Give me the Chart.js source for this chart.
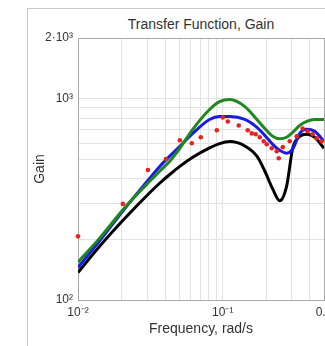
<!DOCTYPE html>
<html>
<head>
<meta charset="utf-8">
<script src="https://cdn.jsdelivr.net/npm/chart.js@4.4.1/dist/chart.umd.min.js"></script>
<style>
  html, body { margin: 0; padding: 0; background: #fff; overflow: hidden; width: 325px; height: 346px; }
  #frame { position: absolute; left: 27px; top: 8px; width: 400px; height: 400px; border: 1px solid #c8c8c8; }
  #title { position: absolute; left: 78px; width: 246px; top: 16px; text-align: center;
           font: 14px "Liberation Sans", Arial, sans-serif; color: #333; line-height: 17px; }
  #wrap { position: absolute; left: 0; top: 0; width: 360px; height: 346px; }
</style>
</head>
<body>
<div id="frame"></div>
<div id="title">Transfer Function, Gain</div>
<div id="wrap"><canvas id="chart" width="360" height="346"></canvas></div>
<script>
// model curves share one frequency grid (rad/s)
const freq = [0.01, 0.0142, 0.021, 0.0314, 0.0368, 0.043, 0.0505, 0.062, 0.081, 0.095, 0.112,
              0.142, 0.172, 0.195, 0.221, 0.247, 0.276, 0.304, 0.34, 0.38, 0.431, 0.5];
const gainGreen = [154, 204, 287, 390, 437, 489, 567, 704, 883, 967, 989,
                   913, 788, 711, 650, 632, 643, 680, 736, 770, 788, 788];
const gainBlue  = [145, 198, 284, 404, 462, 518, 580, 672, 788, 815, 815,
                   788, 720, 657, 593, 554, 536, 561, 672, 704, 688, 614];
const gainBlack = [137, 186, 254, 342, 381, 420, 461, 511, 569, 598, 612,
                   582, 518, 437, 356, 311, 368, 567, 650, 665, 643, 567];

// measured points (red dots)
const measFreq = [0.01, 0.0204, 0.0304, 0.0405, 0.0505, 0.0611, 0.0705, 0.0909, 0.1, 0.1083,
                  0.1289, 0.1487, 0.1585, 0.1689, 0.18, 0.1918, 0.2011, 0.2177, 0.2357, 0.2433,
                  0.2594, 0.29, 0.3239, 0.356, 0.3858, 0.4175, 0.4449, 0.4817];
const measGain = [207, 300, 442, 501, 621, 600, 643, 696, 806, 770,
                  736, 696, 672, 665, 643, 614, 593, 567, 548, 506,
                  574, 614, 650, 711, 688, 665, 635, 614];

// grid + labels
const xGrid = [0.01, 0.02, 0.03, 0.04, 0.05, 0.06, 0.07, 0.08, 0.09, 0.1, 0.2, 0.3, 0.4, 0.5];
const yGrid = [100, 200, 300, 400, 500, 600, 700, 800, 900, 1000, 2000];
const xTicks = [0.01, 0.1, 0.5];
const xTickLabels = ['10\u207B\u00B2', '10\u207B\u00B9', '0.5'];
const yTicks = [100, 1000, 2000];
const yTickLabels = ['10\u00B2', '10\u00B3', '2\u00B710\u00B3'];

const pts = (xs, ys) => xs.map((x, i) => ({ x: x, y: ys[i] }));

// plot box border
const boxBorder = {
    id: 'boxBorder',
    beforeDatasetsDraw(chart) {
        const a = chart.chartArea, ctx = chart.ctx;
        ctx.save();
        ctx.strokeStyle = '#a8a8a8';
        ctx.lineWidth = 1;
        ctx.strokeRect(Math.round(a.left) + 0.5, Math.round(a.top) + 0.5,
                       Math.round(a.right - a.left), Math.round(a.bottom - a.top));
        ctx.restore();
    }
};

const font = { family: '"Liberation Sans", Arial, sans-serif', size: 12 };

new Chart(document.getElementById('chart'), {
    type: 'line',
    data: {
        datasets: [
            { type: 'scatter', data: pts(measFreq, measGain), showLine: false,
              pointRadius: 2.3, pointBackgroundColor: '#e8231f', pointBorderColor: '#e8231f',
              pointBorderWidth: 0, clip: 4 },
            { data: pts(freq, gainGreen), borderColor: '#1e881e', borderWidth: 3, pointRadius: 0,
              cubicInterpolationMode: 'monotone' },
            { data: pts(freq, gainBlue), borderColor: '#1a1ae8', borderWidth: 3, pointRadius: 0,
              cubicInterpolationMode: 'monotone' },
            { data: pts(freq, gainBlack), borderColor: '#000', borderWidth: 3, pointRadius: 0,
              cubicInterpolationMode: 'monotone' }
        ]
    },
    options: {
        responsive: false,
        animation: false,
        layout: { padding: { left: 0, top: 38, right: 36, bottom: 0 } },
        plugins: { legend: { display: false }, tooltip: { enabled: false }, title: { display: false } },
        scales: {
            x: {
                type: 'logarithmic', min: 0.01, max: 0.5,
                afterBuildTicks: s => { s.ticks = xGrid.map(v => ({ value: v })); },
                afterFit: s => { s.height = 46; },
                ticks: {
                    autoSkip: false, maxRotation: 0, padding: 5, color: '#333', font: font,
                    callback: v => { const i = xTicks.indexOf(v); return i >= 0 ? xTickLabels[i] : ''; }
                },
                grid: { color: '#e2e2e2', drawTicks: false },
                border: { display: false },
                title: { display: true, text: 'Frequency, rad/s', color: '#333',
                         font: { family: font.family, size: 14 }, padding: { top: 0, bottom: 8 } }
            },
            y: {
                type: 'logarithmic', min: 100, max: 2000,
                afterBuildTicks: s => { s.ticks = yGrid.map(v => ({ value: v })); },
                afterFit: s => { s.width = 78; },
                ticks: {
                    autoSkip: false, padding: 5, color: '#333', font: font,
                    callback: v => { const i = yTicks.indexOf(v); return i >= 0 ? yTickLabels[i] : ''; }
                },
                grid: { color: '#e2e2e2', drawTicks: false },
                border: { display: false },
                title: { display: true, text: 'Gain', color: '#333',
                         font: { family: font.family, size: 14 }, padding: { top: 32, bottom: 0 } }
            }
        }
    },
    plugins: [boxBorder]
});
</script>
</body>
</html>
